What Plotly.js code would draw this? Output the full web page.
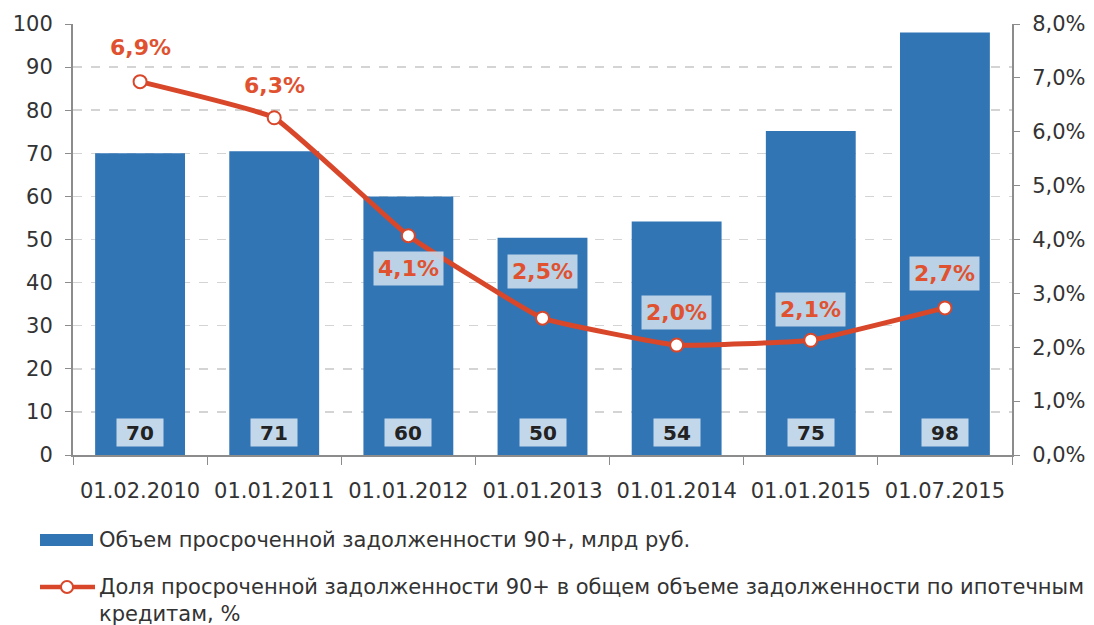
<!DOCTYPE html>
<html><head><meta charset="utf-8">
<script src="https://cdn.plot.ly/plotly-3.0.1.min.js"></script>
<style>html,body{margin:0;padding:0;background:#fff;}#c{width:1094px;height:625px;}</style>
</head><body><div id="c"></div>
<script>
const categories = ['01.02.2010','01.01.2011','01.01.2012','01.01.2013','01.01.2014','01.01.2015','01.07.2015'];
const volume = [70, 70.5, 60, 50.4, 54.2, 75.2, 98];          // млрд руб.
const share = [6.93, 6.26, 4.07, 2.54, 2.04, 2.13, 2.73];      // %
const volumeName = 'Объем просроченной задолженности 90+, млрд руб.';
const shareName = 'Доля просроченной задолженности 90+ в общем объеме задолженности по ипотечным<br>кредитам, %';

const FONT = 'DejaVu Sans, Verdana, sans-serif';
const BAR_COLOR = '#3175b5', LINE_COLOR = '#d9472b';
const shareOffsets = [-34, -32, 33, -47, -33, -31, -34];

// plot area in pixels: x 73..1012, y 24..455
const px = v => (v - 73) / 939;
const py = v => (455 - v) / 431;

const annotations = [];
categories.forEach((c, i) => {
  annotations.push({
    x: c, y: 5.3, xref: 'x', yref: 'y', showarrow: false,
    text: '<b>' + Math.round(volume[i]) + '</b>',
    font: {family: FONT, size: 20, color: '#222'},
    bgcolor: '#c3d7ea', width: 46, height: 27, borderpad: 0
  });
  annotations.push({
    x: c, y: share[i], xref: 'x', yref: 'y2', showarrow: true, arrowcolor: 'rgba(0,0,0,0)',
    ax: 0, ay: shareOffsets[i],
    text: '<b>' + share[i].toFixed(1).replace('.', ',') + '%</b>',
    font: {family: FONT, size: 22, color: '#e0522f'},
    bgcolor: i >= 2 ? 'rgba(197,217,234,0.92)' : 'rgba(0,0,0,0)', borderpad: 4
  });
});

// custom legend
annotations.push({xref: 'paper', yref: 'paper', x: px(97), y: py(540), xanchor: 'left', yanchor: 'middle',
  showarrow: false, text: volumeName, font: {family: FONT, size: 21, color: '#333'}});
annotations.push({xref: 'paper', yref: 'paper', x: px(97), y: py(600), xanchor: 'left', yanchor: 'middle',
  showarrow: false, align: 'left', text: shareName, font: {family: FONT, size: 21, color: '#333'}});

const shapes = [
  {type: 'rect', xref: 'paper', yref: 'paper', x0: px(40), x1: px(93), y0: py(546), y1: py(534),
   fillcolor: BAR_COLOR, line: {width: 0}},
  {type: 'line', xref: 'paper', yref: 'paper', x0: px(40), x1: px(95), y0: py(587), y1: py(587),
   line: {color: LINE_COLOR, width: 4.5}},
  {type: 'circle', xref: 'paper', yref: 'paper', x0: px(61), x1: px(73), y0: py(593), y1: py(581),
   fillcolor: '#fff', line: {color: LINE_COLOR, width: 2}}
];

const data = [
  {type: 'bar', x: categories, y: volume, name: volumeName, yaxis: 'y',
   marker: {color: BAR_COLOR}, width: 0.67, hoverinfo: 'x+y'},
  {type: 'scatter', mode: 'lines+markers', x: categories, y: share, name: shareName, yaxis: 'y2',
   line: {color: LINE_COLOR, width: 5, shape: 'spline', smoothing: 0.3},
   marker: {size: 13, color: '#fff', line: {color: LINE_COLOR, width: 2}}}
];

const tickFont = {family: FONT, size: 21, color: '#333'};
const layout = {
  width: 1094, height: 625,
  margin: {l: 73, r: 82, t: 24, b: 170},
  paper_bgcolor: '#fff', plot_bgcolor: '#fff',
  font: {family: FONT, size: 20, color: '#333'},
  separators: ', ',
  showlegend: false,
  xaxis: {type: 'category', showline: true, linecolor: '#8c8c8c', linewidth: 2,
          ticks: 'outside', tickson: 'boundaries', ticklen: 8, tickcolor: '#8c8c8c',
          tickfont: tickFont, ticklabelstandoff: 16, showgrid: false},
  yaxis: {range: [0, 100], dtick: 10, showline: true, linecolor: '#8c8c8c', linewidth: 2,
          ticks: 'outside', ticklen: 6, tickcolor: '#8c8c8c', ticklabelstandoff: 8,
          gridcolor: '#d4d4d4', griddash: 'dash', gridwidth: 1.5, zeroline: false,
          tickfont: tickFont},
  yaxis2: {range: [0, 8], dtick: 1, overlaying: 'y', side: 'right', showline: true,
           linecolor: '#8c8c8c', linewidth: 2, ticks: 'outside', ticklen: 6, tickcolor: '#8c8c8c',
           ticklabelstandoff: 8, tickformat: '.1f', ticksuffix: '%', showgrid: false, zeroline: false,
           tickfont: tickFont},
  annotations: annotations,
  shapes: shapes
};

Plotly.newPlot('c', data, layout, {displayModeBar: false, staticPlot: true});
</script></body></html>
